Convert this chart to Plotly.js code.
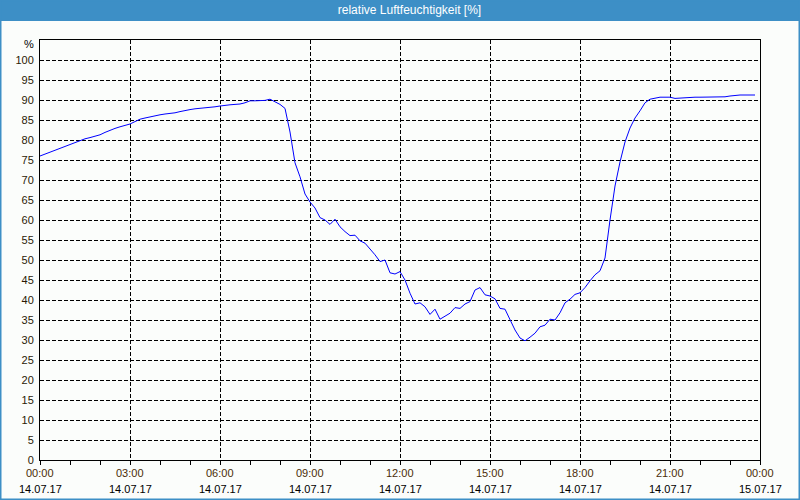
<!DOCTYPE html>
<html>
<head>
<meta charset="utf-8">
<script src="https://cdn.plot.ly/plotly-3.0.1.min.js"></script>
<style>html,body{margin:0;padding:0;background:#fbfdfb;}#chart{width:800px;height:500px;}</style>
</head>
<body>
<div id="chart"></div>
<script>
// times of readings (14.07.17), 10-minute steps
const times = [
"00:00","00:10","00:20","00:30","00:40","00:50","01:00","01:10","01:20","01:30","01:40","01:50",
"02:00","02:10","02:20","02:30","02:40","02:50","03:00","03:10","03:20","03:30","03:40","03:50",
"04:00","04:10","04:20","04:30","04:40","04:50","05:00","05:10","05:20","05:30","05:40","05:50",
"06:00","06:10","06:20","06:30","06:40","06:50","07:00","07:10","07:20","07:30","07:40","07:50",
"08:00","08:10","08:20","08:30","08:40","08:50","09:00","09:10","09:20","09:30","09:40","09:50",
"10:00","10:10","10:20","10:30","10:40","10:50","11:00","11:10","11:20","11:30","11:40","11:50",
"12:00","12:10","12:20","12:30","12:40","12:50","13:00","13:10","13:20","13:30","13:40","13:50",
"14:00","14:10","14:20","14:30","14:40","14:50","15:00","15:10","15:20","15:30","15:40","15:50",
"16:00","16:10","16:20","16:30","16:40","16:50","17:00","17:10","17:20","17:30","17:40","17:50",
"18:00","18:10","18:20","18:30","18:40","18:50","19:00","19:10","19:20","19:30","19:40","19:50",
"20:00","20:10","20:20","20:30","20:40","20:50","21:00","21:10","21:20","21:30","21:40","21:50",
"22:00","22:10","22:20","22:30","22:40","22:50","23:00","23:10","23:20","23:30","23:40","23:50"];
// relative humidity in %
const humidity = [
76.0,76.5,77.0,77.5,78.0,78.5,79.0,79.5,80.0,80.3,80.6,80.9,
81.3,81.9,82.5,82.9,83.3,83.6,84.0,84.6,85.2,85.5,85.8,86.1,
86.3,86.5,86.6,86.8,87.1,87.4,87.6,87.8,87.9,88.0,88.2,88.3,
88.5,88.7,88.8,88.9,89.0,89.3,89.8,89.8,89.8,89.9,90.2,89.6,
88.9,87.9,82.0,74.3,70.8,66.5,64.5,63.0,60.6,60.0,58.9,60.2,
58.3,57.1,56.1,56.2,54.8,54.2,52.8,51.3,49.6,50.0,46.8,46.5,
47.1,45.0,41.7,39.0,39.3,38.3,36.4,37.7,35.2,36.0,36.7,38.1,
37.9,39.0,39.6,42.5,43.1,41.3,41.0,40.3,37.9,37.7,35.0,32.5,
30.5,29.8,30.7,31.7,33.3,33.7,35.2,35.0,36.8,39.3,40.2,41.4,
41.8,43.1,44.8,46.3,47.3,50.5,60.0,68.5,74.5,79.5,83.0,85.5,
87.3,89.3,90.2,90.5,90.7,90.7,90.7,90.4,90.5,90.6,90.7,90.7,
90.7,90.7,90.7,90.7,90.8,90.8,91.0,91.2,91.25,91.25,91.25,91.25];

const tickTimes = ["00:00","03:00","06:00","09:00","12:00","15:00","18:00","21:00","00:00"];
const tickDates = ["14.07.17","14.07.17","14.07.17","14.07.17","14.07.17","14.07.17","14.07.17","14.07.17","15.07.17"];
const tickStamps = ["2017-07-14 00:00","2017-07-14 03:00","2017-07-14 06:00","2017-07-14 09:00","2017-07-14 12:00","2017-07-14 15:00","2017-07-14 18:00","2017-07-14 21:00","2017-07-15 00:00"];
const yTicks = [0,5,10,15,20,25,30,35,40,45,50,55,60,65,70,75,80,85,90,95,100];

const x = times.map(t => "2017-07-14 " + t);
const timeColor = "#4a2c08";
const yLabelColor = "#2a1a06";

const W = 800, H = 500, L = 40, R = 40, T = 40, B = 40;
const pw = W - L - R, ph = H - T - B;
const px = v => (v - L) / pw;
const py = v => 1 - (v - T) / ph;

const trace = {
  x: x, y: humidity, type: "scatter", mode: "lines",
  line: {color: "#0000ff", width: 1}, hoverinfo: "skip"
};

const labelFont = "Liberation Sans, Arial, sans-serif";
const timeAnn = tickStamps.map((s, i) => ({
  text: tickTimes[i], xref: "x", yref: "paper", x: s, y: py(473), xanchor: "center", yanchor: "middle",
  showarrow: false, font: {size: 11, color: timeColor, family: labelFont}
}));
const dateAnn = tickStamps.map((s, i) => ({
  text: tickDates[i], xref: "x", yref: "paper", x: s, y: py(489), xanchor: "center", yanchor: "middle",
  showarrow: false, font: {size: 11, color: "#000", family: labelFont}
}));

const layout = {
  width: W, height: H,
  margin: {l: L, r: R, t: T, b: B, pad: 0},
  paper_bgcolor: "#fbfdfb", plot_bgcolor: "#fbfdfb",
  font: {family: labelFont, size: 11, color: "#000"},
  showlegend: false,
  title: {text: "relative Luftfeuchtigkeit [%]", font: {color: "#ffffff", size: 12, family: labelFont},
          x: 409.5 / W, xanchor: "center", y: 1 - 10/H, yanchor: "middle", yref: "container"},
  xaxis: {
    type: "date",
    range: ["2017-07-14 00:00", "2017-07-15 00:00"],
    tickvals: tickStamps, showticklabels: false,
    ticks: "outside", ticklen: 4, tickcolor: "#000", tickwidth: 1,
    showgrid: true, gridcolor: "#000", gridwidth: 1, griddash: "4px,2px",
    minor: {dtick: 3600000, ticks: "outside", ticklen: 4, tickcolor: "#000", showgrid: false},
    showline: true, linecolor: "#000", linewidth: 1, mirror: true,
    zeroline: false, fixedrange: true
  },
  yaxis: {
    range: [0, 105],
    tickvals: yTicks, ticktext: yTicks.map(String),
    tickfont: {size: 11, color: yLabelColor},
    ticks: "", ticklabelstandoff: 3,
    showgrid: true, gridcolor: "#000", gridwidth: 1, griddash: "4px,2px",
    showline: true, linecolor: "#000", linewidth: 1, mirror: true,
    zeroline: false, fixedrange: true
  },
  shapes: [
    {type: "rect", xref: "paper", yref: "paper", x0: px(0), x1: px(W), y0: py(0), y1: py(21),
     fillcolor: "#3d8fc6", line: {width: 0}, layer: "below"},
    {type: "rect", xref: "paper", yref: "paper", x0: px(0.5), x1: px(W - 0.5), y0: py(0.5), y1: py(H - 0.5),
     fillcolor: "rgba(0,0,0,0)", line: {color: "#3d8fc6", width: 2}, layer: "above"}
  ],
  annotations: [
    {text: "%", xref: "paper", yref: "paper", x: px(36), y: py(44), xanchor: "right", yanchor: "middle",
     showarrow: false, font: {size: 11, color: "#000", family: labelFont}}
  ].concat(timeAnn, dateAnn)
};

Plotly.newPlot("chart", [trace], layout, {staticPlot: true, displayModeBar: false});
</script>
</body>
</html>
